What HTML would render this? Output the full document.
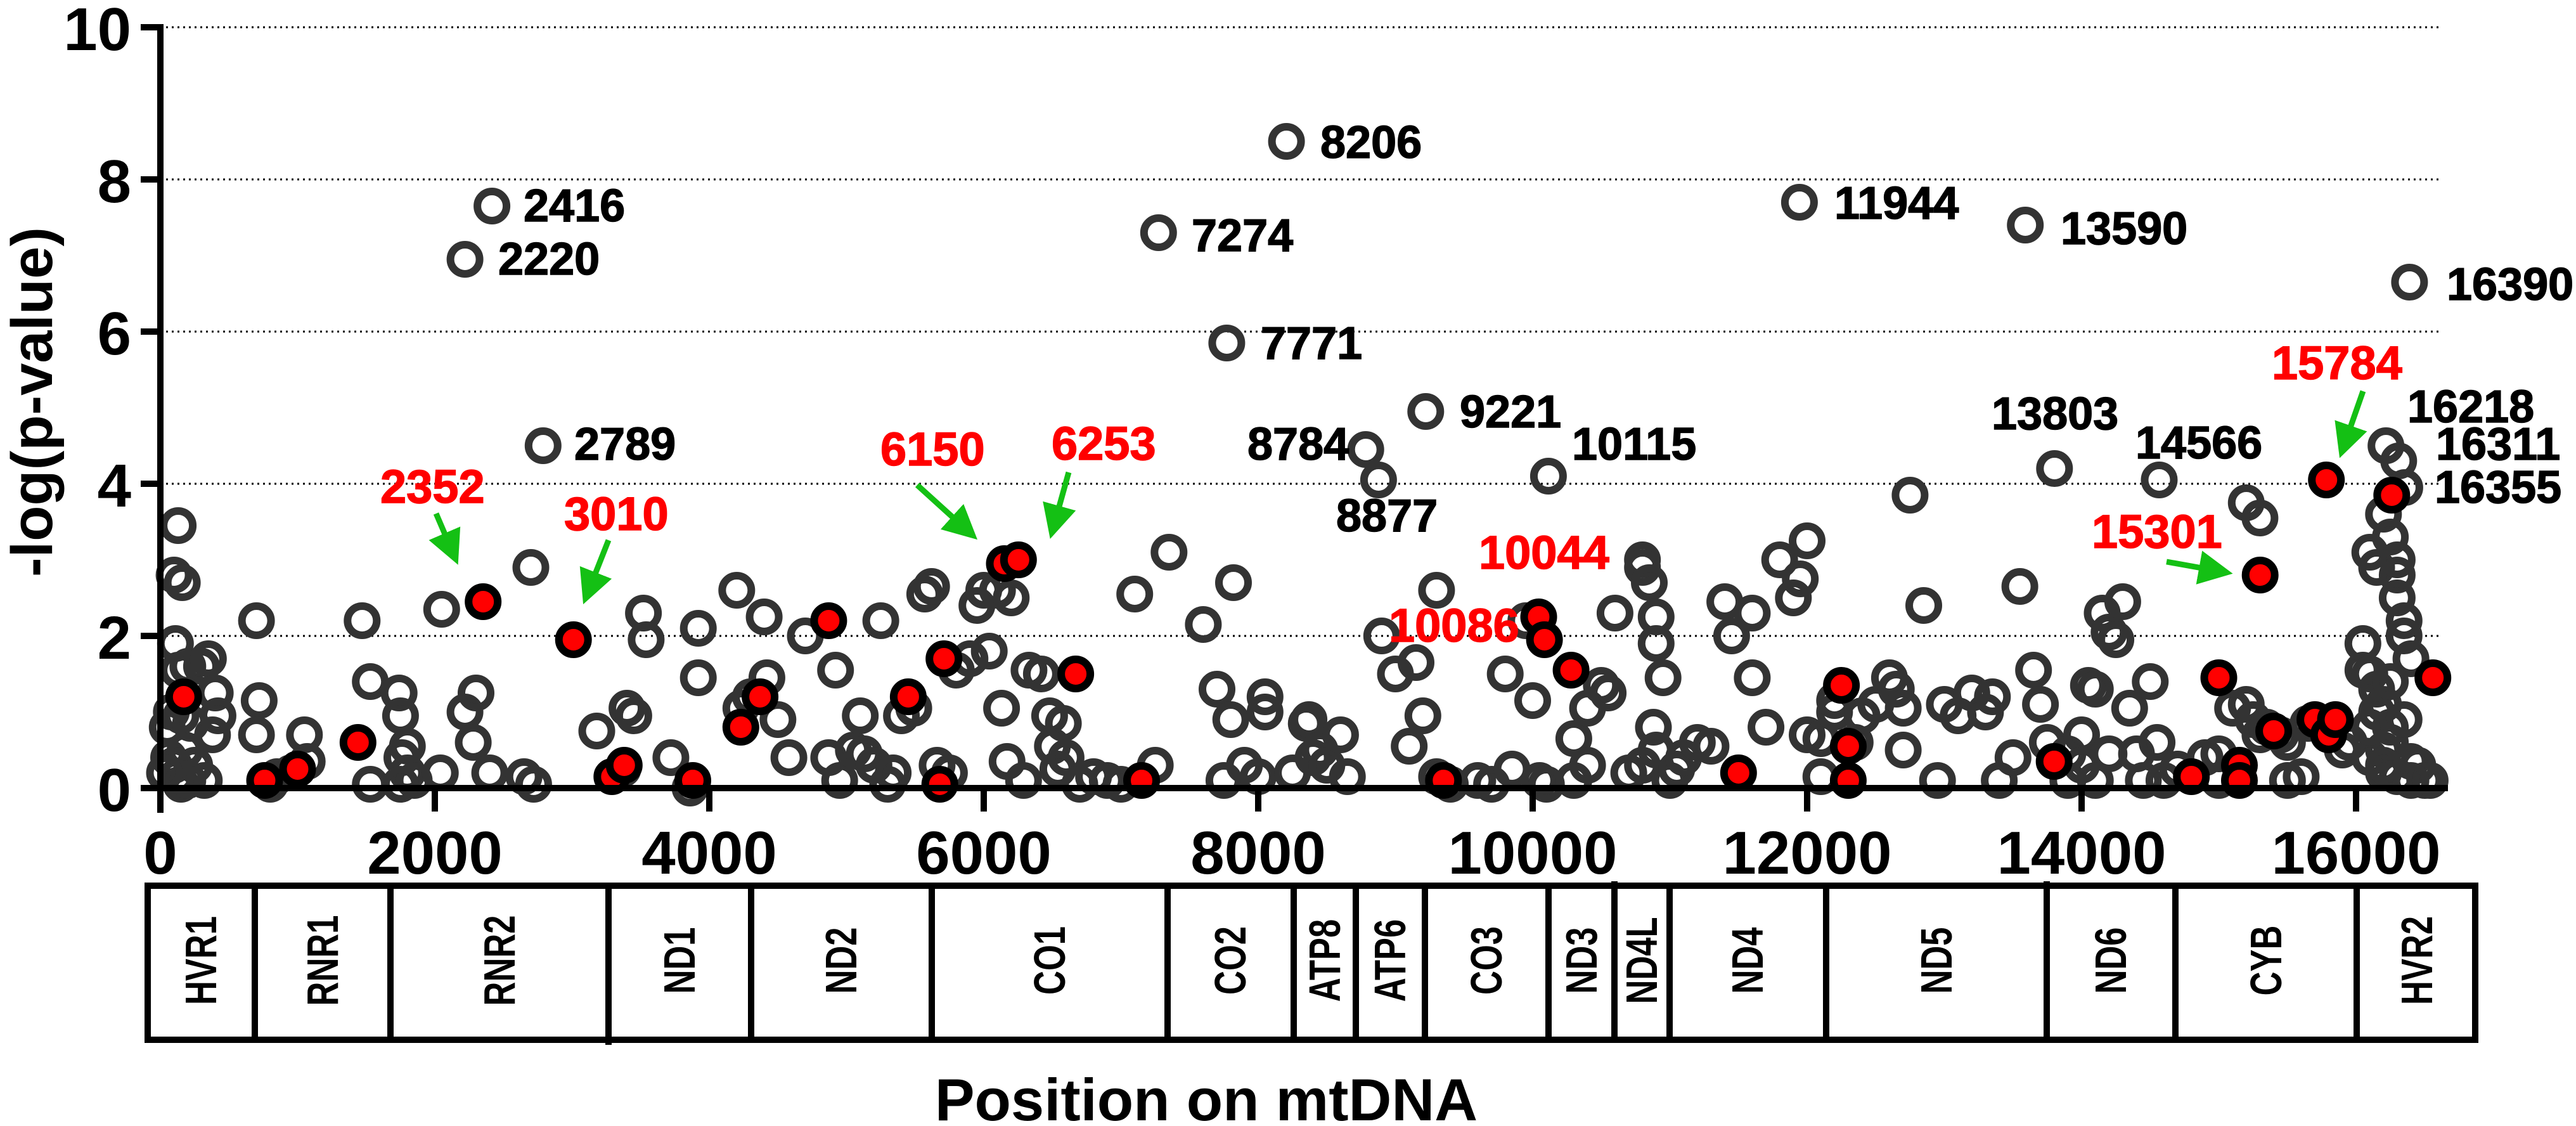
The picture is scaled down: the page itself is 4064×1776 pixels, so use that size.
<!DOCTYPE html>
<html><head><meta charset="utf-8"><style>
html,body{margin:0;padding:0;background:#fff}
svg{display:block}
text{font-family:"Liberation Sans",Arial,sans-serif;font-weight:bold}
</style></head><body>
<svg id="s" width="4064" height="1776" viewBox="0 0 4064 1776" xmlns="http://www.w3.org/2000/svg">
<defs>
<marker id="ah" markerWidth="6" markerHeight="6" refX="3" refY="3" orient="auto" markerUnits="strokeWidth"><path d="M0,0 L6,3 L0,6 z" fill="#14c014"/></marker>
</defs>
<g stroke="#000" stroke-width="3" stroke-dasharray="3 6">
<line x1="262" y1="43" x2="3847" y2="43"/>
<line x1="262" y1="283" x2="3847" y2="283"/>
<line x1="262" y1="523" x2="3847" y2="523"/>
<line x1="262" y1="763" x2="3847" y2="763"/>
<line x1="262" y1="1003" x2="3847" y2="1003"/>
</g>
<g id="pts"></g>
<g stroke="#000" stroke-width="10">
<line x1="253" y1="38" x2="253" y2="1282"/>
<line x1="248" y1="1243" x2="3862" y2="1243"/>
<line x1="222" y1="43" x2="253" y2="43"/>
<line x1="222" y1="283" x2="253" y2="283"/>
<line x1="222" y1="523" x2="253" y2="523"/>
<line x1="222" y1="763" x2="253" y2="763"/>
<line x1="222" y1="1003" x2="253" y2="1003"/>
<line x1="222" y1="1243" x2="253" y2="1243"/>
<line x1="686" y1="1243" x2="686" y2="1280"/>
<line x1="1119" y1="1243" x2="1119" y2="1280"/>
<line x1="1552" y1="1243" x2="1552" y2="1280"/>
<line x1="1985" y1="1243" x2="1985" y2="1280"/>
<line x1="2418" y1="1243" x2="2418" y2="1280"/>
<line x1="2851" y1="1243" x2="2851" y2="1280"/>
<line x1="3284" y1="1243" x2="3284" y2="1280"/>
<line x1="3717" y1="1243" x2="3717" y2="1280"/>
</g>
<g font-size="96" text-anchor="end">
<text x="207" y="79">10</text>
<text x="207" y="319">8</text>
<text x="207" y="559">6</text>
<text x="207" y="799">4</text>
<text x="207" y="1039">2</text>
<text x="207" y="1279">0</text>
</g>
<g font-size="96" text-anchor="middle">
<text x="253" y="1378">0</text>
<text x="686" y="1378">2000</text>
<text x="1119" y="1378">4000</text>
<text x="1552" y="1378">6000</text>
<text x="1985" y="1378">8000</text>
<text x="2418" y="1378">10000</text>
<text x="2851" y="1378">12000</text>
<text x="3284" y="1378">14000</text>
<text x="3717" y="1378">16000</text>
</g>
<text font-size="92" text-anchor="middle" transform="translate(82,634) rotate(-90)">-log(p-value)</text>
<text font-size="94" x="1903" y="1767" text-anchor="middle">Position on mtDNA</text>
<g stroke="#000" stroke-width="10" fill="none">
<rect x="233" y="1397" width="3672" height="243"/>
<line x1="402" y1="1397" x2="402" y2="1640"/>
<line x1="616" y1="1397" x2="616" y2="1640"/>
<line x1="960" y1="1397" x2="960" y2="1648"/>
<line x1="1185" y1="1397" x2="1185" y2="1640"/>
<line x1="1470" y1="1397" x2="1470" y2="1640"/>
<line x1="1842" y1="1397" x2="1842" y2="1640"/>
<line x1="2041" y1="1397" x2="2041" y2="1640"/>
<line x1="2139" y1="1397" x2="2139" y2="1640"/>
<line x1="2248" y1="1397" x2="2248" y2="1640"/>
<line x1="2443" y1="1397" x2="2443" y2="1640"/>
<line x1="2547" y1="1390" x2="2547" y2="1640"/>
<line x1="2634" y1="1397" x2="2634" y2="1640"/>
<line x1="2881" y1="1397" x2="2881" y2="1640"/>
<line x1="3229" y1="1390" x2="3229" y2="1640"/>
<line x1="3432" y1="1397" x2="3432" y2="1640"/>
<line x1="3718" y1="1397" x2="3718" y2="1640"/>
</g>
<g font-size="70" text-anchor="middle" id="genes"></g>
<g font-size="72" fill="#000" stroke="#000" stroke-width="1.5">
<text x="826" y="349">2416</text>
<text x="786" y="433">2220</text>
<text x="906" y="725">2789</text>
<text x="2083" y="249">8206</text>
<text x="1880" y="396">7274</text>
<text x="1989" y="566">7771</text>
<text x="2303" y="674">9221</text>
<text x="1968" y="725">8784</text>
<text x="2108" y="838">8877</text>
<text x="2480" y="725">10115</text>
<text x="2894" y="345">11944</text>
<text x="3251" y="385">13590</text>
<text x="3860" y="473">16390</text>
<text x="3142" y="677">13803</text>
<text x="3369" y="723">14566</text>
<text x="3798" y="666">16218</text>
<text x="3843" y="725">16311</text>
<text x="3841" y="793">16355</text>
</g>
<g font-size="74" fill="#ff0000" stroke="#ff0000" stroke-width="1.5">
<text x="600" y="793">2352</text>
<text x="890" y="836">3010</text>
<text x="1389" y="734">6150</text>
<text x="1659" y="725">6253</text>
<text x="2333" y="897">10044</text>
<text x="2191" y="1012">10086</text>
<text x="3584" y="598">15784</text>
<text x="3300" y="864">15301</text>
</g>
<g stroke="#14c014" stroke-width="9" marker-end="url(#ah)">
<line x1="688" y1="810" x2="712" y2="866"/>
<line x1="960" y1="852" x2="930" y2="928"/>
<line x1="1447" y1="765" x2="1522" y2="833"/>
<line x1="1686" y1="745" x2="1664" y2="824"/>
<line x1="3728" y1="617" x2="3700" y2="697"/>
<line x1="3418" y1="886" x2="3496" y2="900"/>
</g>
</svg>
<script>
var d=[
[130,3.45,0],[100,2.8,0],[160,2.7,0],[110,1.9,0],[130,1.55,0],[50,0.8,0],[80,1.0,0],[150,0.95,0],[200,1.6,0],[60,0.4,0],[100,0.3,0],[120,0.15,0],[150,0.05,0],[200,0.1,0],[250,0.3,0],[300,1.6,0],[350,1.7,0],[400,1.25,0],[420,0.95,0],[380,0.7,0],[320,0.1,0],[180,0.5,0],[30,0.2,0],[220,0.85,0],[700,2.2,0],[720,1.15,0],[700,0.7,0],[800,0.05,0],[850,0.15,0],[950,0.2,0],[1050,0.7,0],[1070,0.35,0],
[1470,2.2,0],[1530,1.4,0],[1530,0.05,0],[1740,1.25,0],[1750,0.95,0],[1800,0.55,0],[1760,0.4,0],[1800,0.2,0],[1850,0.1,0],[1750,0.05,0],[2040,0.2,0],[2050,2.35,0],[2220,1.0,0],[2280,0.6,0],[2300,1.25,0],[2400,0.2,0],[2700,2.9,0],[2650,0.15,0],[2720,0.05,0],
[3180,0.75,0],[3370,0.25,0],[3400,1.05,0],[3450,0.95,0],[3520,2.3,0],[3540,1.95,0],[3720,0.4,0],[3860,0.0,0],[3920,2.1,0],[3920,1.45,0],[4200,2.6,0],[4230,1.05,0],[4300,1.2,0],[4420,1.45,0],[4400,2.25,0],[4500,0.9,0],[4700,2.0,0],[4580,0.4,0],[4920,1.55,0],[4870,0.4,0],[4950,0.1,0],[5050,0.5,0],[5100,0.95,0],[5130,0.45,0],[5200,0.3,0],[5300,0.05,0],[5340,0.2,0],[5400,0.95,0],[5490,1.05,0],[5250,2.2,0],[5570,2.55,0],[5620,2.65,0],[5660,0.3,0],[5750,0.2,0],[5800,1.55,0],[5900,1.7,0],[5950,2.4,0],[6000,2.6,0],[6100,2.6,0],[6200,2.5,0],[6040,1.8,0],[6130,1.05,0],[6170,0.35,0],[6290,0.1,0],[6330,1.55,0],[6420,1.5,0],[6480,0.95,0],[6500,0.55,0],[6580,0.85,0],[6540,0.25,0],[6600,0.4,0],[6700,0.05,0],[6800,0.15,0],[6900,0.1,0],[7000,0.05,0],[7100,2.55,0],[7250,0.3,0],[7350,3.1,0],[7600,2.15,0],[7700,1.3,0],[7800,0.9,0],[7900,0.3,0],[7750,0.1,0],[7820,2.7,0],[8000,0.15,0],[8050,1.0,0],[8050,1.2,0],[8250,0.2,0],[8350,0.85,0],[8370,0.9,0],[8400,0.4,0],[8450,0.5,0],[8500,0.3,0],[8600,0.7,0],[8650,0.15,0],[8900,2.0,0],[9000,1.5,0],[9100,0.55,0],[9150,1.65,0],[9200,0.95,0],[9300,2.6,0],[9300,0.15,0],[9400,0.05,0],[9600,0.1,0],[9700,0.05,0],[9800,1.5,0],[9850,0.25,0],[9950,2.2,0],[10000,1.15,0],[10050,0.1,0],[10100,0.05,0],[10300,0.65,0],[10300,0.1,0],[10400,1.05,0],[10500,1.35,0],[10550,1.25,0],[10600,2.3,0],[10400,0.3,0],[10700,0.2,0],[10800,3.0,0],[10800,2.9,0],[10850,2.7,0],[10900,2.25,0],[10900,1.9,0],[10950,1.45,0],[10880,0.8,0],[10900,0.5,0],[10800,0.3,0],[11000,0.1,0],[11050,0.25,0],[11100,0.4,0],[11200,0.6,0],[11300,0.55,0],[11400,2.45,0],[11450,2.0,0],[11600,1.45,0],[11600,2.3,0],[11700,0.8,0],[11800,3.0,0],[11900,2.5,0],[11950,2.75,0],[12000,3.25,0],[12100,0.15,0],[12000,0.7,0],[12100,0.65,0],[12200,1.0,0],[12200,1.15,0],[12350,0.6,0],[12400,0.95,0],[12500,1.1,0],[12600,1.45,0],[12650,1.3,0],[12700,1.05,0],[12750,3.85,0],[12850,2.4,0],[13000,1.1,0],[13100,0.95,0],[13300,1.0,0],[13350,1.2,0],[13400,0.1,0],[13500,0.4,0],[13550,2.65,0],[13650,1.55,0],[13700,1.1,0],[13750,0.6,0],[13900,0.45,0],[14000,0.7,0],[14050,1.35,0],[14100,1.3,0],[14150,2.3,0],[14200,2.05,0],[14250,1.95,0],[14300,2.45,0],[14350,1.05,0],[14400,0.45,0],[14450,0.1,0],[14500,1.4,0],[14550,0.6,0],[14600,0.1,0],[14700,0.25,0],[14900,0.4,0],[15000,0.45,0],[15200,1.1,0],[15250,0.9,0],[15300,0.7,0],[15350,0.8,0],[15450,0.7,0],[15500,0.1,0],[15600,0.15,0],[15650,0.85,0],[15750,0.85,0],[15900,0.5,0],[16050,1.55,0],[15950,0.6,0],[16100,3.1,0],[16150,2.9,0],[16050,1.9,0],[16100,1.5,0],[16150,1.3,0],[16200,1.1,0],[16250,0.8,0],[16200,0.5,0],[16100,0.4,0],[16300,2.8,0],[16300,2.5,0],[16350,2.2,0],[16400,1.7,0],[16200,3.6,0],[16250,3.3,0],[16300,3.0,0],[16350,2.0,0],[16200,0.2,0],[16300,0.15,0],[16400,0.35,0],[16450,0.3,0],[16500,0.1,0],[16540,0.1,0],[15200,3.75,0],[15300,3.55,0],[15100,1.05,0],[15000,0.1,0],[15500,0.6,0],[16400,0.1,0],[14200,0.45,0],[14000,0.3,0],[14100,0.1,0],[13200,1.25,0],[13900,0.1,0],[12950,0.1,0],[12700,0.5,0],[16150,1.0,0],[16250,0.6,0],[16350,0.9,0],[16200,0.3,0],[16100,0.8,0],[16250,1.4,0],
[2416,7.65,0],[2220,6.95,0],[2789,4.5,0],[8206,8.5,0],[7274,7.3,0],[7771,5.85,0],[9221,4.95,0],[8784,4.45,0],[8877,4.05,0],[10115,4.1,0],[11944,7.7,0],[13590,7.4,0],[16390,6.65,0],[13803,4.2,0],[14566,4.05,0],[16218,4.5,0],[16311,4.3,0],[16355,3.95,0],
[170,1.2,1],[760,0.1,1],[1000,0.25,1],[1440,0.6,1],[3290,0.15,1],[3380,0.3,1],[3880,0.1,1],[4230,0.8,1],[4370,1.2,1],[4870,2.2,1],[5450,1.2,1],[5710,1.7,1],[5680,0.05,1],[6670,1.5,1],[7150,0.1,1],[9350,0.1,1],[10280,1.55,1],[11500,0.2,1],[12250,1.35,1],[12300,0.55,1],[12300,0.1,1],[13800,0.35,1],[14800,0.15,1],[15000,1.45,1],[15150,0.3,1],[15150,0.1,1],[15400,0.75,1],[15700,0.9,1],[15800,0.7,1],[15850,0.9,1],[16560,1.45,1],[16260,3.85,1],
[2352,2.45,1],[3010,1.95,1],[6150,2.95,1],[6253,3.0,1],[10044,2.25,1],[10086,1.95,1],[15301,2.8,1],[15784,4.05,1]];
var g=document.getElementById("pts"),h="";
d.forEach(function(p){var x=253+0.2165*p[0],y=1243-120*p[1];
if(p[2])h+='<circle cx="'+x.toFixed(1)+'" cy="'+y.toFixed(1)+'" r="23" fill="#ff0000" stroke="#000" stroke-width="12"/>';
else h+='<circle cx="'+x.toFixed(1)+'" cy="'+y.toFixed(1)+'" r="23" fill="none" stroke="#333" stroke-width="12"/>';});
g.innerHTML=h;
var gn=[["HVR1",317],["RNR1",509],["RNR2",788],["ND1",1072],["ND2",1327],["CO1",1656],["CO2",1941],["ATP8",2090],["ATP6",2193],["CO3",2345],["ND3",2495],["ND4L",2590],["ND4",2757],["ND5",3055],["ND6",3330],["CYB",3575],["HVR2",3813]];
var s="";gn.forEach(function(a){s+='<text transform="translate('+(a[1]+24)+',1515) rotate(-90) scale(0.75,1)">'+a[0]+'</text>';});
document.getElementById("genes").innerHTML=s;
</script>
</body></html>
